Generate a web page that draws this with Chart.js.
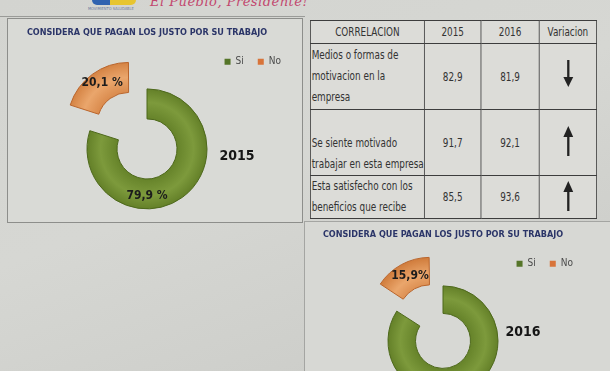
<!DOCTYPE html>
<html>
<head>
<meta charset="utf-8">
<script src="https://cdn.jsdelivr.net/npm/chart.js@4.4.1/dist/chart.umd.min.js"></script>
<style>
  html, body { margin: 0; padding: 0; }
  body {
    width: 610px; height: 371px; overflow: hidden; position: relative;
    background: linear-gradient(160deg, #d3d4d0 0%, #d6d7d3 45%, #c9cac6 100%);
    font-family: "DejaVu Sans Condensed", "DejaVu Sans", sans-serif;
  }
  .mano {
    position: absolute; left: 150px; top: -6px;
    font: italic 13px "DejaVu Serif", serif; color: #c2476e; letter-spacing: 0.5px;
  }
  .logo { position: absolute; left: 92px; top: 0; width: 44px; height: 5px;
    background: linear-gradient(90deg, #2f62b0 0 40%, #e7c531 40% 100%); border-radius: 0 0 6px 6px; }
  .logo-txt { position: absolute; left: 88px; top: 6px; font-size: 4px; color: #6a7aa0; }
  .linea { position: absolute; left: 0; top: 16px; width: 305px; height: 1px; background: #9a9b98; }
  .panel { position: absolute; border: 1px solid #8d8e8b; background: #d9dad6; }
  #panel1 { left: 7px; top: 18px; width: 294px; height: 203px; }
  #panel2 { left: 304px; top: 221px; width: 310px; height: 160px; border-right: none; border-bottom: none;
    background: #d7d8d4; border-color: #a4a5a2; }
  canvas { position: absolute; z-index: 2; }
  #chart2015 { left: -1px; top: 18px; }
  #chart2016 { left: 299px; top: 220px; }
  .anio { position: absolute; z-index: 3; font-weight: bold; font-size: 14px; color: #151515;
    transform: translate(-50%, -50%); }
  #tabla {
    position: absolute; left: 310px; top: 20px; z-index: 2; width: 349px;
    transform: scaleX(0.82); transform-origin: 0 0;
    border-collapse: collapse; table-layout: fixed; background: #dcdcd8;
    font-size: 12px; color: #333;
  }
  #tabla td, #tabla th { border: 1.6px solid #3d3d3d; padding: 0; font-weight: normal; }
  #tabla th { height: 22px; text-align: center; }
  #tabla td.txt { text-align: left; line-height: 21px; padding-left: 1px; white-space: nowrap; }
  #tabla td.num { text-align: center; vertical-align: middle; }
  #tabla td.flecha { text-align: center; vertical-align: middle; }
</style>
</head>
<body>
<div class="logo"></div>
<div class="logo-txt">MOVIMIENTO SALUDABLE</div>
<div class="mano">El Pueblo, Presidente!</div>
<div class="linea"></div>
<div class="panel" id="panel1"></div>
<div class="panel" id="panel2"></div>
<canvas id="chart2015" width="296" height="203"></canvas>
<canvas id="chart2016" width="288" height="183"></canvas>
<div class="anio" style="left:237px; top:155px;">2015</div>
<div class="anio" style="left:523px; top:331px;">2016</div>
<table id="tabla"></table>

<script>
// datos de los graficos
var tituloGrafico = 'CONSIDERA QUE PAGAN LOS JUSTO POR SU TRABAJO';
var categorias = ['Si', 'No'];
var valores2015 = [79.9, 20.1];
var valores2016 = [84.1, 15.9];

// datos de la tabla
var encabezados = ['CORRELACION', '2015', '2016', 'Variacion'];
var filasTabla = [
    'Medios o formas de\nmotivacion en la\nempresa',
    'Se siente motivado\ntrabajar en esta empresa',
    'Esta satisfecho con los\nbeneficios que recibe'
];
var tabla2015 = [82.9, 91.7, 85.5];
var tabla2016 = [81.9, 92.1, 93.6];

var coloresLeyenda = ['#557528', '#d8743a'];
var fuente = '"DejaVu Sans Condensed", "DejaVu Sans", sans-serif';

function formatoComa(v) {
    return v.toFixed(1).replace('.', ',');
}

// ============================
// TABLA (se dibuja ancha y se comprime con scaleX 0.82)
// ============================
function flecha(sube) {
    var d = sube
        ? '<line x1="7" y1="30" x2="7" y2="9" stroke="#222" stroke-width="2.8"/><polygon points="1,11 13,11 7,0" fill="#222"/>'
        : '<line x1="7" y1="0" x2="7" y2="19" stroke="#222" stroke-width="2.8"/><polygon points="1,17 13,17 7,27" fill="#222"/>';
    return '<svg width="14" height="30" viewBox="0 0 14 30">' + d + '</svg>';
}

var html = '<colgroup><col style="width:139px"><col style="width:69px"><col style="width:71px"><col style="width:70px"></colgroup>';
html += '<tr>' + encabezados.map(function (e) { return '<th>' + e + '</th>'; }).join('') + '</tr>';
var altos = [66, 66, 43];
var alineacion = ['middle', 'bottom', 'middle'];
filasTabla.forEach(function (f, i) {
    html += '<tr style="height:' + altos[i] + 'px">' +
        '<td class="txt" style="vertical-align:' + alineacion[i] + '">' + f.split('\n').join('<br>') + '</td>' +
        '<td class="num">' + formatoComa(tabla2015[i]) + '</td>' +
        '<td class="num">' + formatoComa(tabla2016[i]) + '</td>' +
        '<td class="flecha">' + flecha(tabla2016[i] > tabla2015[i]) + '</td></tr>';
});
document.getElementById('tabla').innerHTML = html;

// ============================
// GRAFICOS DE DONA
// ============================
var tonos = [
    ['#66832a', '#7d9a3c', '#5e7a24'],   // Si
    ['#d8884a', '#eaa66c', '#d27f3f']    // No
];

function relleno(radio) {
    return function (context) {
        var t = tonos[context.dataIndex] || tonos[0];
        var a = context.chart.chartArea;
        if (!a) return t[1];
        var cx = (a.left + a.right) / 2;
        var cy = (a.top + a.bottom) / 2;
        var g = context.chart.ctx.createRadialGradient(cx, cy, radio * 0.5, cx, cy, radio + 3);
        g.addColorStop(0, t[0]);
        g.addColorStop(0.5, t[1]);
        g.addColorStop(1, t[2]);
        return g;
    };
}

// etiquetas de porcentaje sobre cada porcion
var etiquetasPct = {
    id: 'etiquetasPct',
    afterDatasetsDraw: function (chart, args, opts) {
        var ctx = chart.ctx;
        var meta = chart.getDatasetMeta(0);
        var datos = chart.data.datasets[0].data;
        ctx.save();
        ctx.font = 'bold 12px ' + fuente;
        ctx.fillStyle = '#1c1c1c';
        ctx.textAlign = 'center';
        ctx.textBaseline = 'middle';
        meta.data.forEach(function (arc, i) {
            var medio = (arc.startAngle + arc.endAngle) / 2;
            var ang = i === 0 ? Math.PI / 2 : medio;
            var r = (arc.innerRadius + arc.outerRadius) / 2;
            var off = (arc.options.offset || 0) / 4;
            var x = arc.x + Math.cos(ang) * r + Math.cos(medio) * off;
            var y = arc.y + Math.sin(ang) * r + Math.sin(medio) * off - (i === 0 ? -2 : 5);
            ctx.fillText(formatoComa(datos[i]) + opts.sufijo, x, y);
        });
        ctx.restore();
    }
};

function crearDona(id, valores, sufijo, radio, desplazamiento) {
    return new Chart(document.getElementById(id), {
        type: 'doughnut',
        data: {
            labels: categorias,
            datasets: [{
                data: valores,
                backgroundColor: relleno(radio),
                borderColor: ['#4d681b', '#b9642b'],
                borderWidth: 1,
                offset: [0, desplazamiento]
            }]
        },
        options: {
            responsive: false,
            animation: false,
            radius: radio,
            cutout: '50%',
            plugins: {
                title: {
                    display: true,
                    text: tituloGrafico,
                    color: '#2b3568',
                    font: { family: fuente, size: 9, weight: 'bold' },
                    padding: { top: 9, bottom: 5 }
                },
                legend: {
                    position: 'top',
                    align: 'end',
                    labels: {
                        boxWidth: 6,
                        boxHeight: 6,
                        padding: 14,
                        color: '#4a4a4a',
                        font: { family: fuente, size: 10 },
                        generateLabels: function () {
                            return categorias.map(function (c, i) {
                                return { text: c, fillStyle: coloresLeyenda[i], strokeStyle: coloresLeyenda[i], lineWidth: 0, hidden: false, index: i, fontColor: '#4a4a4a' };
                            });
                        }
                    }
                },
                tooltip: { enabled: false },
                etiquetasPct: { sufijo: sufijo }
            }
        },
        plugins: [etiquetasPct]
    });
}

var grafico2015 = crearDona('chart2015', valores2015, ' %', 60, 124);
var grafico2016 = crearDona('chart2016', valores2016, '%', 55, 110);
</script>
</body>
</html>
